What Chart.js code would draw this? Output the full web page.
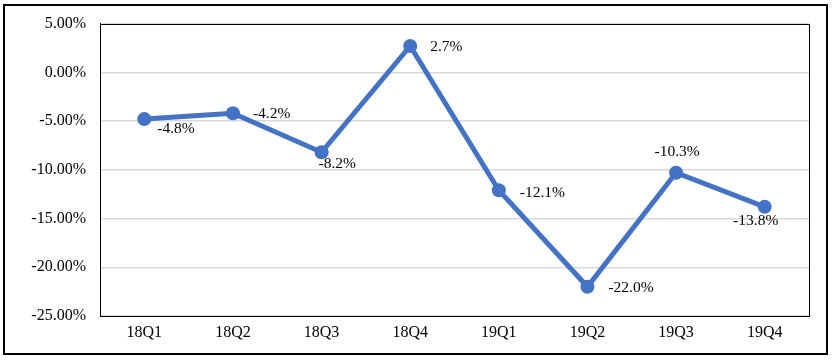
<!DOCTYPE html>
<html>
<head>
<meta charset="utf-8">
<script src="https://cdn.jsdelivr.net/npm/chart.js@4/dist/chart.umd.min.js"></script>
<style>
  html, body { margin: 0; padding: 0; background: #fff; }
  #wrap { position: relative; width: 833px; height: 364px; }
</style>
</head>
<body>
<div id="wrap"><canvas id="growthChart" width="833" height="364"></canvas></div>
<script>
// quarterly growth, percent
const quarters = ['18Q1', '18Q2', '18Q3', '18Q4', '19Q1', '19Q2', '19Q3', '19Q4'];
const growth = [-4.8, -4.2, -8.2, 2.7, -12.1, -22.0, -10.3, -13.8];

const FONT = '"Liberation Serif", "Times New Roman", serif';

// label placement relative to each point: dx, dy (px), text align
const labelOffsets = [
    [13, 10, 'left'], [20, 1, 'left'], [-3, 12, 'left'], [20, 1, 'left'],
    [21, 3, 'left'], [21, 1, 'left'], [1, -21, 'center'], [-9, 14, 'center']
];

const boxesPlugin = {
    id: 'boxes',
    afterDraw(chart) {
        const c = chart.ctx;
        const a = chart.chartArea;
        c.save();
        c.strokeStyle = '#000';
        // plot frame
        c.lineWidth = 1;
        c.strokeRect(Math.round(a.left) + 0.5, Math.round(a.top) + 0.5,
            Math.round(a.right - a.left), Math.round(a.bottom - a.top));
        // outer frame
        c.lineWidth = 2;
        c.strokeRect(4, 5, 823, 349);

        // data labels
        const meta = chart.getDatasetMeta(0);
        c.fillStyle = '#000';
        c.font = '15.5px ' + FONT;
        c.textBaseline = 'middle';
        meta.data.forEach((pt, i) => {
            const [dx, dy, align] = labelOffsets[i];
            c.textAlign = align;
            c.fillText(growth[i].toFixed(1) + '%', pt.x + dx, pt.y + dy);
        });
        c.restore();
    }
};

new Chart(document.getElementById('growthChart'), {
    type: 'line',
    data: {
        labels: quarters,
        datasets: [{
            data: growth,
            borderColor: '#4472C4',
            backgroundColor: '#4472C4',
            borderWidth: 5,
            pointRadius: 7,
            pointHoverRadius: 7,
            pointBorderWidth: 0,
            tension: 0
        }]
    },
    options: {
        responsive: false,
        animation: false,
        layout: { padding: { left: 0, top: 20, right: 24, bottom: 0 } },
        plugins: { legend: { display: false }, tooltip: { enabled: false } },
        scales: {
            x: {
                offset: true,
                grid: { display: false, drawTicks: false, offset: true },
                border: { color: '#000', width: 1 },
                ticks: { color: '#000', font: { family: FONT, size: 16 }, padding: 7 },
                afterFit(s) { s.height = 48; }
            },
            y: {
                min: -25,
                max: 5,
                grid: { color: '#d9d9d9', lineWidth: 1.5, drawTicks: false },
                border: { color: '#000', width: 1 },
                ticks: {
                    stepSize: 5,
                    color: '#000',
                    padding: 14,
                    font: { family: FONT, size: 16 },
                    callback: v => v.toFixed(2) + '%'
                },
                afterFit(s) { s.width = 100; }
            }
        }
    },
    plugins: [boxesPlugin]
});
</script>
</body>
</html>
